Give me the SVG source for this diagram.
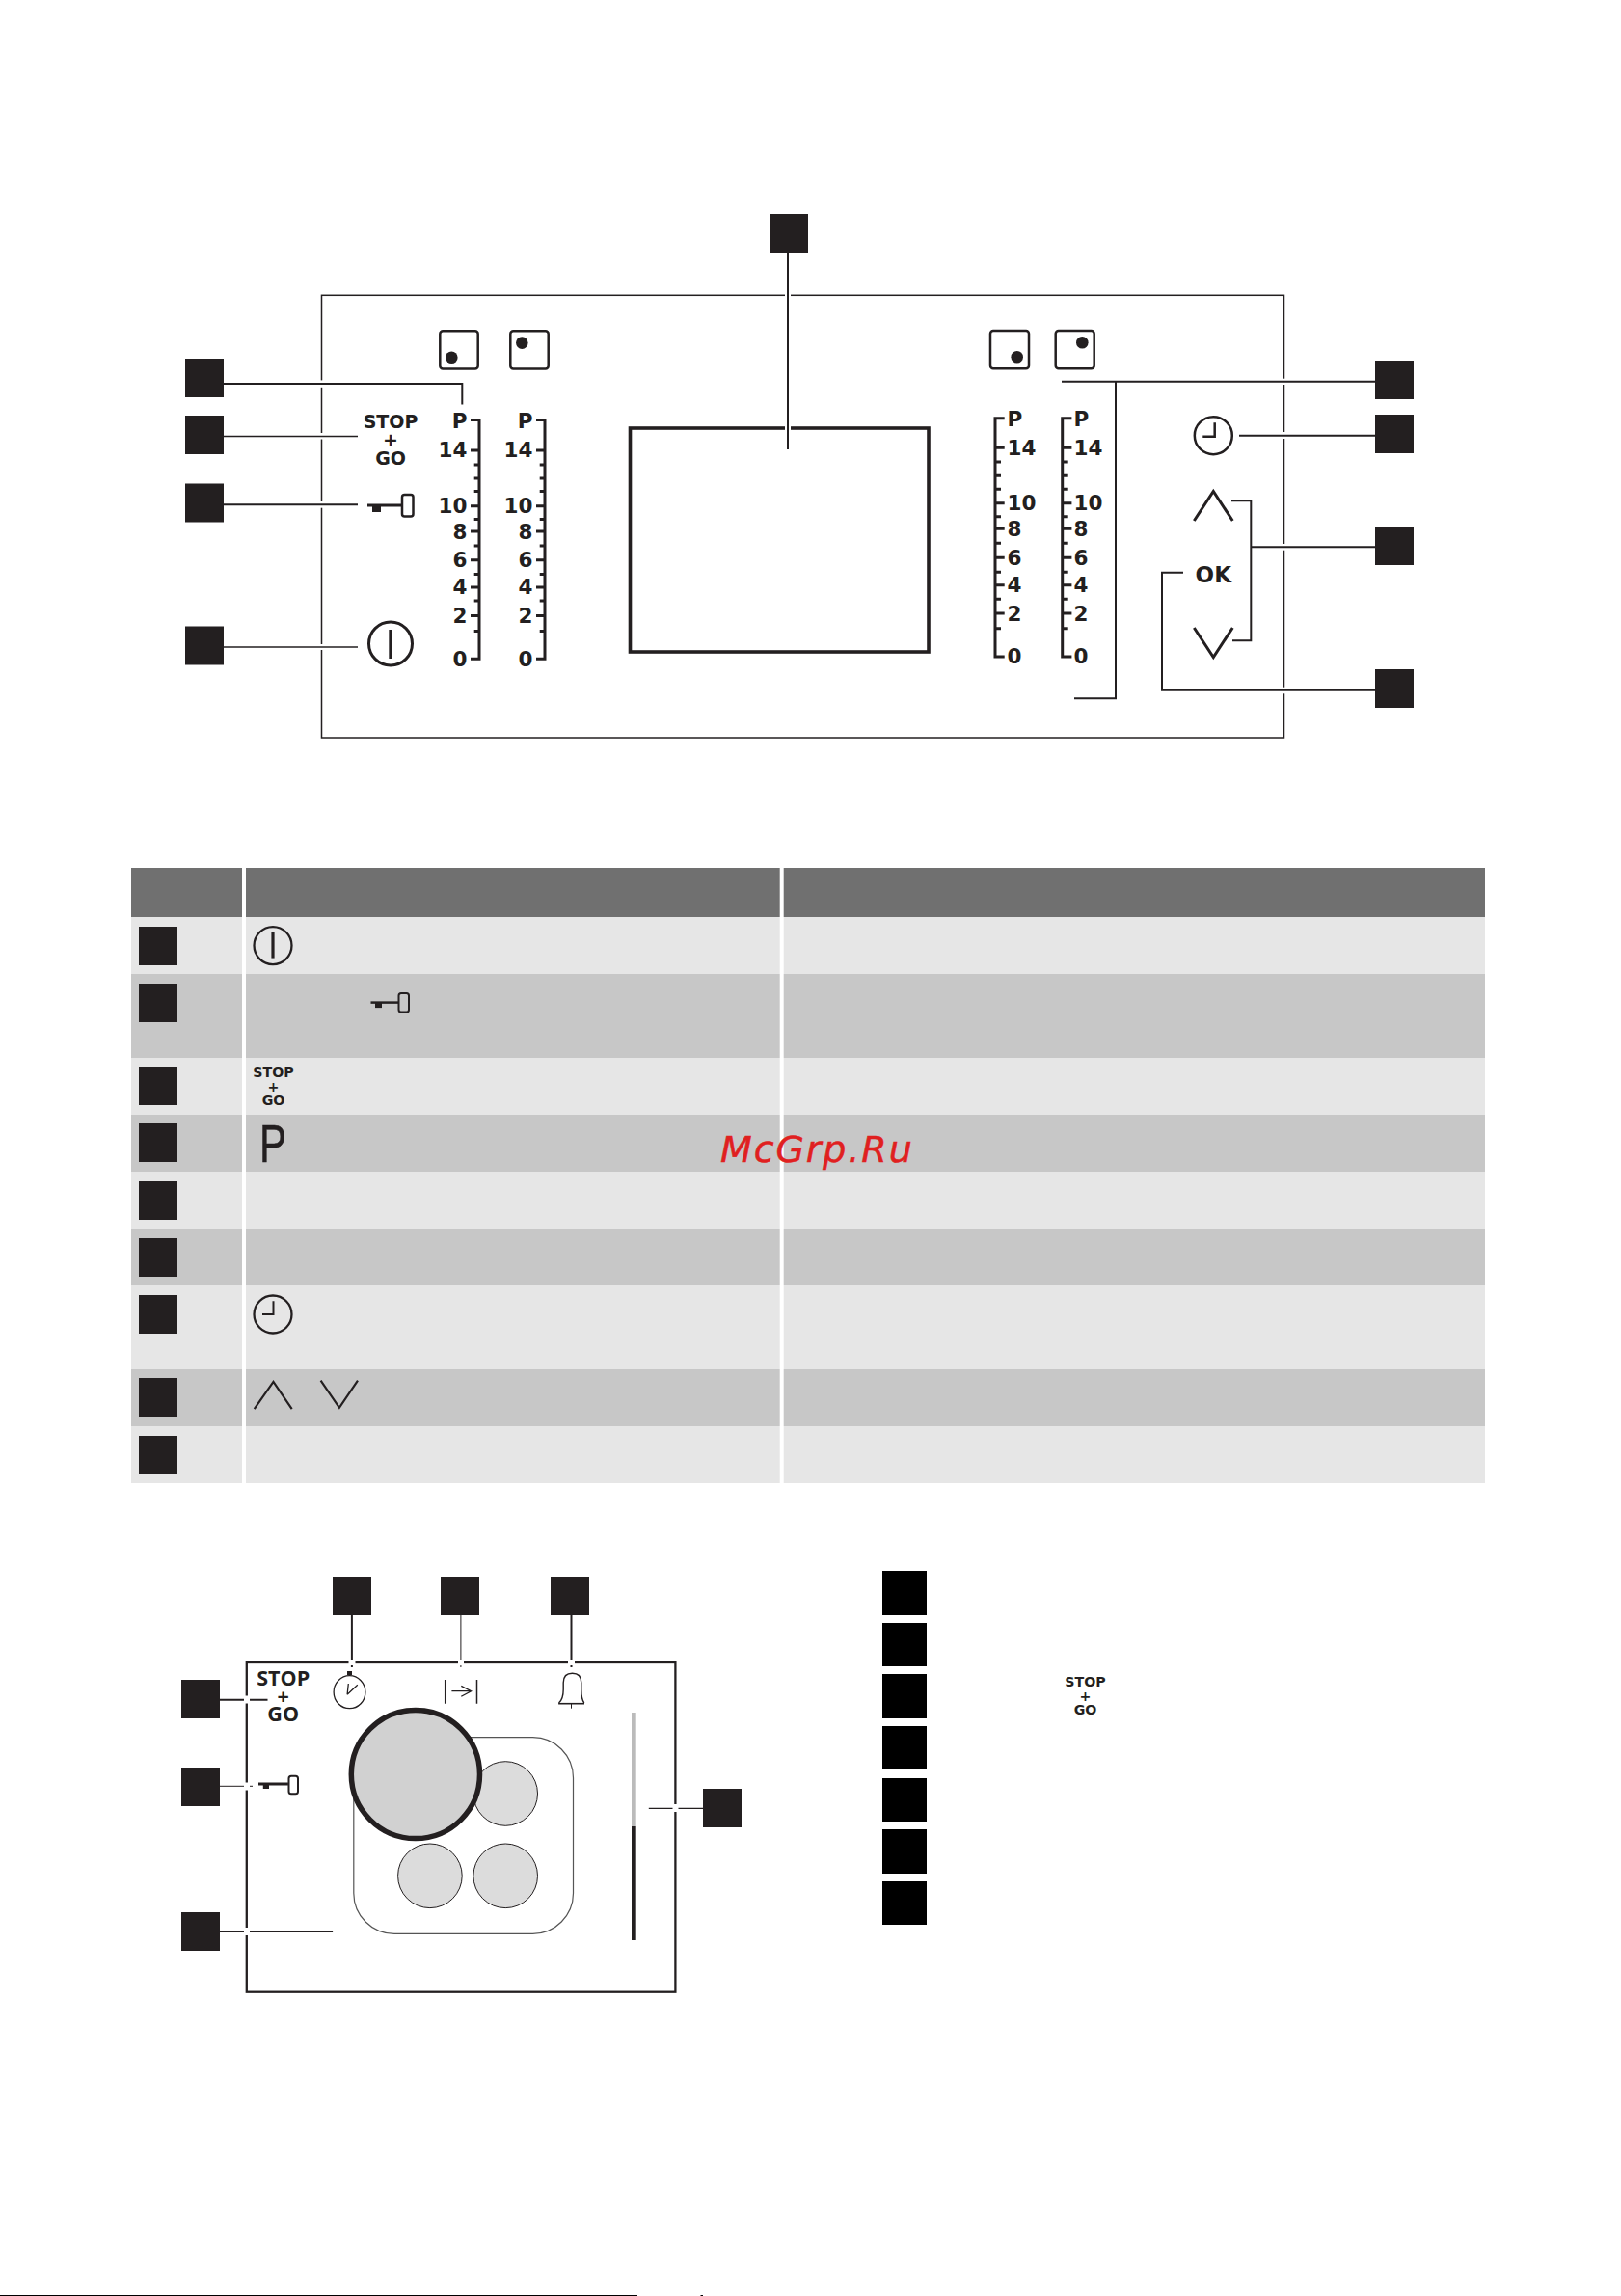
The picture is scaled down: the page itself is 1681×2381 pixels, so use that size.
<svg xmlns="http://www.w3.org/2000/svg" width="1681" height="2381" viewBox="0 0 1681 2381">
<style>
.sq{fill:#231f20}
.k{fill:#000}
.ln{fill:none;stroke:#231f20;stroke-width:2}
.th{fill:none;stroke:#231f20;stroke-width:1.5}
.ic{fill:none;stroke:#231f20;stroke-width:2.5}
.gap{fill:#fff}
.b{font-family:"DejaVu Sans",sans-serif;font-weight:700;fill:#231f20}
.l{font-size:21.5px;text-anchor:end}
.r{font-size:21.5px;text-anchor:start}
.m{text-anchor:middle}
.os{font-family:"Open Sans",sans-serif;font-weight:700;fill:#231f20;text-anchor:middle}
.h{fill:#707070}.a{fill:#e6e6e6}.c{fill:#c7c7c7}
</style>
<defs>
<path id="scaleL" fill="none" stroke="#231f20" stroke-width="3" d="M488 435.6H497V683.3H488M488 467H497M491.7 481.9H497M491.7 496H497M491.7 509.6H497M488 524.8H497M491.7 538.5H497M488 551H497M491.7 566H497M488 580.7H497M491.7 595.6H497M488 609H497M491.7 623H497M488 638.5H497M491.7 654.4H497"/>
<path id="scaleR" fill="none" stroke="#231f20" stroke-width="3" d="M1041.7 433.7H1032V681H1041.7M1041.7 464.3H1032M1038 479H1032M1038 493.3H1032M1038 507.3H1032M1041.7 521.7H1032M1038 535.7H1032M1041.7 548.3H1032M1038 563.3H1032M1041.7 578.3H1032M1038 593.3H1032M1041.7 606.7H1032M1038 621.3H1032M1041.7 636H1032M1038 651.7H1032"/>
</defs>
<rect width="1681" height="2381" fill="#fff"/>

<g id="panel">
<rect x="333.5" y="306.3" width="998" height="458.7" fill="none" stroke="#231f20" stroke-width="1.5"/>
<rect class="gap" x="814" y="304" width="6" height="5"/>
<rect class="gap" x="331" y="394.4" width="5" height="7.4"/><rect class="gap" x="331" y="449" width="5" height="6.5"/><rect class="gap" x="331" y="520" width="5" height="6.7"/><rect class="gap" x="331" y="668" width="5" height="6"/>
<rect class="gap" x="1329" y="392.7" width="5" height="6.3"/><rect class="gap" x="1329" y="448" width="5" height="7"/><rect class="gap" x="1329" y="564" width="5" height="6.7"/><rect class="gap" x="1329" y="712.7" width="5" height="6.6"/>
</g>
<g id="indicators">
<rect class="ic" x="456.3" y="343.3" width="39.4" height="39.3" rx="3"/><circle cx="468.3" cy="370.7" r="6.3" fill="#231f20"/>
<rect class="ic" x="529.3" y="343.3" width="39.4" height="39.3" rx="3"/><circle cx="541.3" cy="355.6" r="6.3" fill="#231f20"/>
<rect class="ic" x="1027" y="343" width="40" height="39.3" rx="3"/><circle cx="1054.7" cy="370.3" r="6.3" fill="#231f20"/>
<rect class="ic" x="1094.7" y="343" width="40" height="39.3" rx="3"/><circle cx="1122.3" cy="355.3" r="6.3" fill="#231f20"/>
</g>
<g id="scale-1"><use href="#scaleL"/>
<text class="b l" x="484.5" y="443.7">P</text><text class="b l" x="484.5" y="474">14</text><text class="b l" x="484.5" y="532">10</text><text class="b l" x="484.5" y="558.5">8</text><text class="b l" x="484.5" y="588">6</text><text class="b l" x="484.5" y="616">4</text><text class="b l" x="484.5" y="646">2</text><text class="b l" x="484.5" y="690.7">0</text></g>
<g id="scale-2"><use href="#scaleL" x="68"/>
<text class="b l" x="552.5" y="443.7">P</text><text class="b l" x="552.5" y="474">14</text><text class="b l" x="552.5" y="532">10</text><text class="b l" x="552.5" y="558.5">8</text><text class="b l" x="552.5" y="588">6</text><text class="b l" x="552.5" y="616">4</text><text class="b l" x="552.5" y="646">2</text><text class="b l" x="552.5" y="690.7">0</text></g>
<g id="scale-3"><use href="#scaleR"/>
<text class="b r" x="1044.5" y="442.3">P</text><text class="b r" x="1044.5" y="471.7">14</text><text class="b r" x="1044.5" y="529.3">10</text><text class="b r" x="1044.5" y="556.3">8</text><text class="b r" x="1044.5" y="585.7">6</text><text class="b r" x="1044.5" y="614">4</text><text class="b r" x="1044.5" y="644">2</text><text class="b r" x="1044.5" y="687.7">0</text></g>
<g id="scale-4"><use href="#scaleR" x="69.7"/>
<text class="b r" x="1113.5" y="442.3">P</text><text class="b r" x="1113.5" y="471.7">14</text><text class="b r" x="1113.5" y="529.3">10</text><text class="b r" x="1113.5" y="556.3">8</text><text class="b r" x="1113.5" y="585.7">6</text><text class="b r" x="1113.5" y="614">4</text><text class="b r" x="1113.5" y="644">2</text><text class="b r" x="1113.5" y="687.7">0</text></g>
<g id="display"><rect x="653.5" y="444" width="309.5" height="232" fill="none" stroke="#231f20" stroke-width="3.6"/><rect class="gap" x="814" y="441" width="6" height="6"/></g>
<g id="stopgo-top"><text class="b m" font-size="19" x="405" y="443.7">STOP</text><text class="b m" font-size="19" x="405" y="463">+</text><text class="b m" font-size="19" x="405" y="482">GO</text></g>
<g id="key-top"><path d="M381 524H416" fill="none" stroke="#231f20" stroke-width="3"/><rect x="386" y="524" width="9" height="7" fill="#231f20"/><rect x="417" y="513" width="11.5" height="22.5" rx="2.5" fill="none" stroke="#231f20" stroke-width="2.5"/></g>
<g id="power-top"><circle cx="405" cy="667.5" r="22.5" fill="none" stroke="#231f20" stroke-width="3"/><path d="M405 653V683" fill="none" stroke="#231f20" stroke-width="3.4"/></g>
<g id="clock-top"><circle cx="1258.3" cy="451.7" r="19.5" class="ic"/><path d="M1259.7 438.3V452.7H1247.3" class="ic"/></g>
<g id="up-top"><path d="M1238.3 540L1258.3 509.5L1278.3 540" fill="none" stroke="#231f20" stroke-width="3"/></g>
<g id="ok-top"><text class="b m" font-size="23" x="1258.3" y="604">OK</text></g>
<g id="down-top"><path d="M1238.3 651L1258.3 681.5L1278.3 651" fill="none" stroke="#231f20" stroke-width="3"/></g>

<g id="connectors">
<path class="ln" d="M817 262V466"/>
<path class="ln" d="M232 398H479.3V419.6"/>
<path class="th" d="M232 452.6H371"/>
<path class="ln" d="M232 523.3H371"/>
<path class="th" d="M232 671H371"/>
<path class="ln" d="M1426 395.7H1101M1157 395.7V724.3H1114"/>
<path class="ln" d="M1285 451.7H1426"/>
<path class="ln" d="M1277 519.3H1297.3V664.3H1278M1297.3 567.3H1426"/>
<path class="ln" d="M1227 593.7H1205V715.7H1426"/>
<path class="ln" d="M364.9 1675V1729"/>
<path fill="none" stroke="#231f20" d="M477.9 1675V1729"/>
<path class="ln" d="M592.5 1675V1729"/>
<path class="ln" d="M228 1762.7H277.5"/>
<path fill="none" stroke="#231f20" d="M228 1852.3H262"/>
<path class="ln" d="M228 2003H345.1"/>
<path fill="none" stroke="#231f20" stroke-width="1.2" d="M672.8 1875.3H729"/>
</g>
<g id="top-badges">
<rect class="sq" x="798" y="222" width="40" height="40"/>
<rect class="sq" x="192" y="372" width="40" height="40"/><rect class="sq" x="192" y="431" width="40" height="40"/><rect class="sq" x="192" y="501.5" width="40" height="40"/><rect class="sq" x="192" y="649.5" width="40" height="40"/>
<rect class="sq" x="1426" y="374" width="40" height="40"/><rect class="sq" x="1426" y="430" width="40" height="40"/><rect class="sq" x="1426" y="546" width="40" height="40"/><rect class="sq" x="1426" y="694" width="40" height="40"/>
</g>

<g id="table">
<rect class="h" x="136" y="900" width="115" height="51"/><rect class="h" x="255" y="900" width="553.7" height="51"/><rect class="h" x="812.7" y="900" width="727.3" height="51"/>
<g class="a"><rect x="136" y="951" width="115" height="59"/><rect x="255" y="951" width="553.7" height="59"/><rect x="812.7" y="951" width="727.3" height="59"/></g>
<g class="c"><rect x="136" y="1010" width="115" height="87"/><rect x="255" y="1010" width="553.7" height="87"/><rect x="812.7" y="1010" width="727.3" height="87"/></g>
<g class="a"><rect x="136" y="1097" width="115" height="59"/><rect x="255" y="1097" width="553.7" height="59"/><rect x="812.7" y="1097" width="727.3" height="59"/></g>
<g class="c"><rect x="136" y="1156" width="115" height="59"/><rect x="255" y="1156" width="553.7" height="59"/><rect x="812.7" y="1156" width="727.3" height="59"/></g>
<g class="a"><rect x="136" y="1215" width="115" height="59"/><rect x="255" y="1215" width="553.7" height="59"/><rect x="812.7" y="1215" width="727.3" height="59"/></g>
<g class="c"><rect x="136" y="1274" width="115" height="59"/><rect x="255" y="1274" width="553.7" height="59"/><rect x="812.7" y="1274" width="727.3" height="59"/></g>
<g class="a"><rect x="136" y="1333" width="115" height="87"/><rect x="255" y="1333" width="553.7" height="87"/><rect x="812.7" y="1333" width="727.3" height="87"/></g>
<g class="c"><rect x="136" y="1420" width="115" height="59"/><rect x="255" y="1420" width="553.7" height="59"/><rect x="812.7" y="1420" width="727.3" height="59"/></g>
<g class="a"><rect x="136" y="1479" width="115" height="59"/><rect x="255" y="1479" width="553.7" height="59"/><rect x="812.7" y="1479" width="727.3" height="59"/></g>
</g>
<g id="table-badges">
<rect class="sq" x="144" y="961" width="40" height="40"/><rect class="sq" x="144" y="1020" width="40" height="40"/><rect class="sq" x="144" y="1106" width="40" height="40"/><rect class="sq" x="144" y="1165" width="40" height="40"/><rect class="sq" x="144" y="1225" width="40" height="40"/><rect class="sq" x="144" y="1284" width="40" height="40"/><rect class="sq" x="144" y="1343" width="40" height="40"/><rect class="sq" x="144" y="1429" width="40" height="40"/><rect class="sq" x="144" y="1489" width="40" height="40"/>
</g>
<g id="table-icons">
<circle cx="283" cy="980.6" r="19.5" fill="none" stroke="#231f20" stroke-width="2.3"/><path d="M283 966.7V993.6" fill="none" stroke="#231f20" stroke-width="3.2"/>
<path d="M384.5 1039.6H413" fill="none" stroke="#231f20" stroke-width="2.5"/><rect x="389" y="1039.6" width="7" height="5.5" fill="#231f20"/><rect x="413.5" y="1030" width="10.5" height="19.5" rx="2.5" class="ln"/>
<text class="b m" font-size="14.2" x="283.5" y="1117.2">STOP</text><text class="b m" font-size="14.2" x="283.5" y="1131.5">+</text><text class="b m" font-size="14.2" x="283.5" y="1145.8">GO</text>
<text font-family="'Liberation Sans',sans-serif" font-size="56" stroke="#231f20" stroke-width="0.5" fill="#231f20" transform="translate(269 1205.2) scale(0.75 1)">P</text>
<circle cx="283" cy="1363" r="19.5" fill="none" stroke="#231f20" stroke-width="2.3"/><path d="M283.5 1349.2V1363H272" class="ln"/>
<path d="M263.7 1461.1L283.5 1432.9L302.7 1461.1" fill="none" stroke="#231f20" stroke-width="2.2"/>
<path d="M332.6 1431.6L351.9 1459.8L371 1431.6" fill="none" stroke="#231f20" stroke-width="2.2"/>
</g>
<g id="watermark"><text font-family="'DejaVu Sans',sans-serif" font-style="italic" font-size="38" letter-spacing="1.9" fill="#e02020" stroke="#e02020" stroke-width="0.5" x="747" y="1204.7">McGrp.Ru</text></g>

<g id="cooktop-box">
<rect x="255.8" y="1724" width="444.6" height="341.7" fill="none" stroke="#231f20" stroke-width="2.3"/>
<rect class="gap" x="361.5" y="1721" width="7" height="6"/><rect class="gap" x="475" y="1721" width="6" height="6"/><rect class="gap" x="589" y="1721" width="7" height="6"/>
<rect class="gap" x="253" y="1758.5" width="6" height="8"/><rect class="gap" x="253" y="1848.5" width="6" height="8"/><rect class="gap" x="253" y="1999" width="6" height="8"/><rect class="gap" x="697.5" y="1871" width="6" height="8"/>
</g>
<g id="cooktop">
<rect x="366.8" y="1801.7" width="227.7" height="203.6" rx="42" fill="#fff" stroke="#555" stroke-width="1.2"/>
<circle cx="524.2" cy="1860" r="33.3" fill="#dcdcdc" stroke="#231f20" stroke-width="1"/>
<circle cx="445.9" cy="1945.3" r="33.3" fill="#dcdcdc" stroke="#231f20" stroke-width="1"/>
<circle cx="524.2" cy="1945.3" r="33.3" fill="#dcdcdc" stroke="#231f20" stroke-width="1"/>
<circle cx="430.9" cy="1840" r="66.6" fill="#d1d1d1" stroke="#231f20" stroke-width="5.5"/>
</g>
<g id="level-bar"><rect x="655" y="1776" width="4.7" height="118" fill="#bbb"/><rect x="655" y="1894" width="4.7" height="118" fill="#231f20"/></g>
<g id="stopgo-cook"><text class="os" font-size="21.5" x="293.7" y="1748">STOP</text><text class="os" font-size="21.5" x="293.7" y="1767">+</text><text class="os" font-size="21.5" x="293.7" y="1785">GO</text></g>
<g id="key-cook"><path d="M268 1850H298.9" fill="none" stroke="#231f20" stroke-width="3"/><rect x="272.8" y="1850" width="6.2" height="5" fill="#231f20"/><rect x="299.5" y="1841.8" width="9.5" height="18.5" rx="2.5" fill="none" stroke="#231f20" stroke-width="2"/></g>
<g id="stopwatch"><ellipse cx="362.5" cy="1754.7" rx="16.4" ry="17" fill="none" stroke="#231f20" stroke-width="1.3"/><rect x="360" y="1733" width="5" height="4" fill="#231f20"/><path d="M360.1 1757.3L361.3 1746M360.1 1757.3L370.8 1747.3" fill="none" stroke="#231f20" stroke-width="1.3"/></g>
<g id="duration"><path d="M461.7 1742V1766.7M494.5 1742V1766.7" fill="none" stroke="#231f20" stroke-width="1.5"/><path d="M468.4 1753.7H488.6M478.3 1748.3L488.6 1753.7L478.3 1759.3" fill="none" stroke="#231f20" stroke-width="1.3"/></g>
<g id="bell"><path d="M579.5 1766Q584.2 1762 584.2 1752V1745Q584.2 1735.3 593.5 1735.3Q602.8 1735.3 602.8 1745V1752Q602.8 1762 605.8 1766" fill="none" stroke="#231f20" stroke-width="1.4"/><path d="M579.1 1766.7H606" fill="none" stroke="#231f20" stroke-width="1.6"/><path d="M592.5 1766.7V1771.7" fill="none" stroke="#231f20" stroke-width="1"/></g>
<g id="cook-badges">
<rect class="sq" x="345" y="1635" width="40" height="40"/><rect class="sq" x="457" y="1635" width="40" height="40"/><rect class="sq" x="571" y="1635" width="40" height="40"/>
<rect class="sq" x="188" y="1742" width="40" height="40"/><rect class="sq" x="188" y="1833" width="40" height="40"/><rect class="sq" x="188" y="1983" width="40" height="40"/>
<rect class="sq" x="729" y="1855" width="40" height="40"/>
</g>
<g id="legend">
<rect class="k" x="915" y="1629" width="46" height="46"/><rect class="k" x="915" y="1683" width="46" height="45"/><rect class="k" x="915" y="1736" width="46" height="46"/><rect class="k" x="915" y="1790" width="46" height="45"/><rect class="k" x="915" y="1844" width="46" height="45"/><rect class="k" x="915" y="1897" width="46" height="46"/><rect class="k" x="915" y="1951" width="46" height="45"/>
<text class="b m" font-size="14.2" x="1125.5" y="1749">STOP</text><text class="b m" font-size="14.2" x="1125.5" y="1764">+</text><text class="b m" font-size="14.2" x="1125.5" y="1778">GO</text>
</g>
<g id="page-edge"><rect x="0" y="2380" width="661" height="1" fill="#000"/><rect x="726.5" y="2380" width="2.5" height="1" fill="#000"/></g>
</svg>
